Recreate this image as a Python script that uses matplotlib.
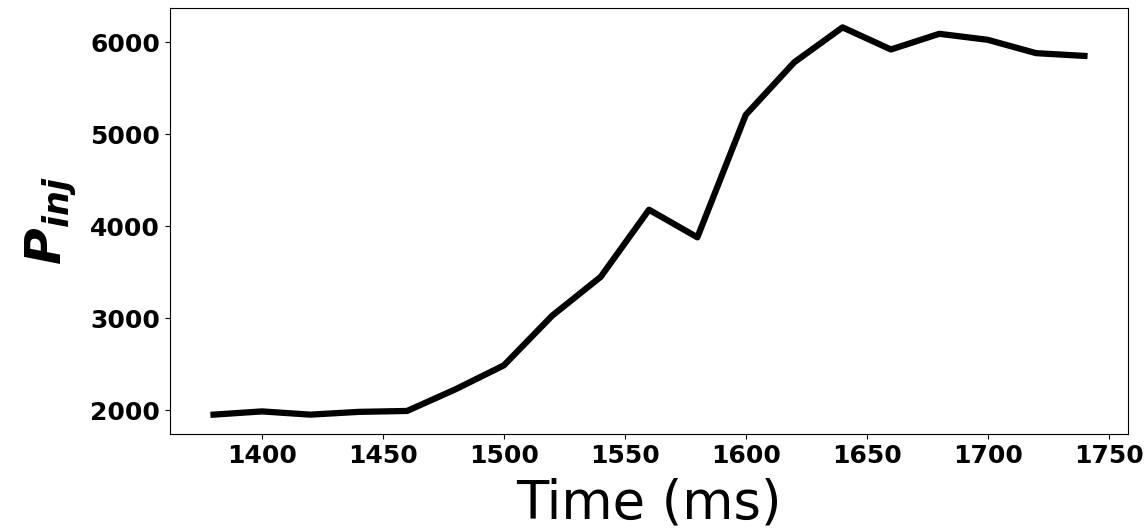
import numpy as np
import matplotlib.pyplot as plt

# time (ms) and injected power
time_ms = [1380, 1400, 1420, 1440, 1460, 1480, 1500, 1520, 1540, 1560,
           1580, 1600, 1620, 1640, 1660, 1680, 1700, 1720, 1740]
p_inj = [1955, 1990, 1955, 1985, 1995, 2230, 2490, 3030, 3450, 4180,
         3880, 5210, 5780, 6160, 5920, 6090, 6025, 5880, 5850]

fig = plt.figure(figsize=(11.45, 5.31), dpi=100)
ax = fig.add_axes([170/1145, 1 - 434/531, (1128-170)/1145, (434-8)/531])

ax.plot(time_ms, p_inj, color="black", linewidth=4.5)

ax.set_xticks([1400, 1450, 1500, 1550, 1600, 1650, 1700, 1750])
ax.set_yticks([2000, 3000, 4000, 5000, 6000])
ax.tick_params(labelsize=18)
for lab in ax.get_xticklabels() + ax.get_yticklabels():
    lab.set_fontweight("bold")

ax.set_xlabel("Time (ms)", fontsize=38, labelpad=7)
ax.set_ylabel(r"$\mathbfit{P_{inj}}$", fontsize=36, labelpad=8)

fig.savefig("out.png")
